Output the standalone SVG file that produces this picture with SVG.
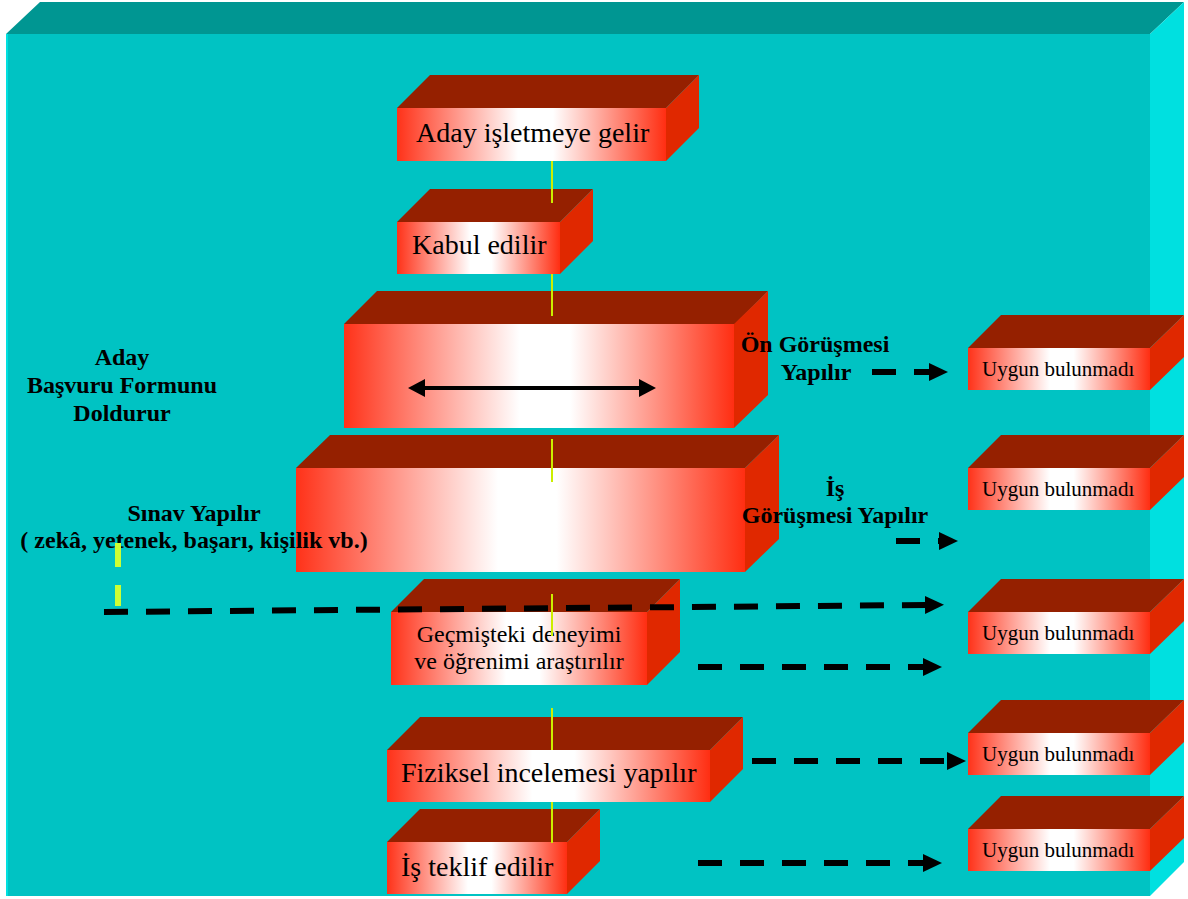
<svg xmlns="http://www.w3.org/2000/svg" width="1188" height="899" viewBox="0 0 1188 899">
<defs>
<linearGradient id="redGrad" x1="0" y1="0" x2="1" y2="0">
<stop offset="0" stop-color="#FF3219"/>
<stop offset="0.45" stop-color="#FFFFFF"/>
<stop offset="0.58" stop-color="#FFFFFF"/>
<stop offset="1" stop-color="#FF2E12"/>
</linearGradient>
<marker id="ah" markerUnits="userSpaceOnUse" markerWidth="20" markerHeight="18" refX="1" refY="9" orient="auto">
<path d="M0,0 L19,9 L0,18 z" fill="#000"/>
</marker>
<marker id="dh" markerUnits="userSpaceOnUse" markerWidth="18" markerHeight="18" refX="1" refY="9" orient="auto-start-reverse">
<path d="M0,0 L17,9 L0,18 z" fill="#000"/>
</marker>
<style>
.front{fill:url(#redGrad)}
.top{fill:#952000}
.side{fill:#E02800}
.bt{font-family:"Liberation Serif","Times New Roman",serif;font-size:28px;fill:#000}
.ut{font-family:"Liberation Serif","Times New Roman",serif;font-size:21px;fill:#000}
.gt{font-family:"Liberation Serif","Times New Roman",serif;font-size:24px;fill:#000;text-anchor:middle}
.lb{font-family:"Liberation Serif","Times New Roman",serif;font-size:24px;font-weight:bold;fill:#000;text-anchor:middle}
.yl{stroke:#CCEE00;stroke-width:2;fill:none}
.da{stroke:#000;stroke-width:6;stroke-dasharray:24 18;fill:none;marker-end:url(#ah)}
</style>
</defs>
<rect width="1188" height="899" fill="#FFFFFF"/>
<g id="background">
<polygon points="6,34 40,2 1184,2 1150,34" fill="#009692"/>
<polygon points="1150,34 1184,2 1184,862 1150,896" fill="#00E0E0"/>
<rect x="6" y="34" width="1144" height="862" fill="#00C3C3"/>
<line x1="7" y1="34" x2="7" y2="896" stroke="#00E0E0" stroke-width="2"/>
</g>
<g id="node-aday-gelir">
<polygon class="top" points="397,108 430,75 699,75 666,108"/>
<polygon class="side" points="666,108 699,75 699,128 666,161"/>
<rect class="front" x="397" y="108" width="269" height="53"/>
<text class="bt" x="416" y="142">Aday işletmeye gelir</text>
</g>
<g id="node-kabul">
<polygon class="top" points="397,222 430,189 593,189 560,222"/>
<polygon class="side" points="560,222 593,189 593,241 560,274"/>
<rect class="front" x="397" y="222" width="163" height="52"/>
<text class="bt" x="412" y="254">Kabul edilir</text>
</g>
<g id="node-on-gorusme">
<polygon class="top" points="344,324 377,291 768,291 735,324"/>
<polygon class="side" points="734,324 768,291 768,395 734,428"/>
<rect class="front" x="344" y="324" width="390" height="104"/>
</g>
<g id="node-sinav">
<polygon class="top" points="296,468 330,435 779,435 745,468"/>
<polygon class="side" points="745,468 779,435 779,539 745,572"/>
<rect class="front" x="296" y="468" width="449" height="104"/>
</g>
<g id="node-gecmis">
<polygon class="top" points="391,612 424,579 680,579 647,612"/>
<polygon class="side" points="647,612 680,579 680,652 647,685"/>
<rect class="front" x="391" y="612" width="256" height="73"/>
<text class="gt" x="519" y="642">Geçmişteki deneyimi</text>
<text class="gt" x="519" y="669">ve öğrenimi araştırılır</text>
</g>
<g id="node-fiziksel">
<polygon class="top" points="387,750 420,717 743,717 710,750"/>
<polygon class="side" points="710,750 743,717 743,769 710,802"/>
<rect class="front" x="387" y="750" width="323" height="52"/>
<text class="bt" x="401" y="782">Fiziksel incelemesi yapılır</text>
</g>
<g id="node-teklif">
<polygon class="top" points="387,842 420,809 600,809 567,842"/>
<polygon class="side" points="567,842 600,809 600,861 567,894"/>
<rect class="front" x="387" y="842" width="180" height="52"/>
<text class="bt" x="401" y="876">İş teklif edilir</text>
</g>
<g id="node-uygun-1">
<polygon class="top" points="968,348 1001,315 1184,315 1150,348"/>
<polygon class="side" points="1150,348 1184,315 1184,357 1150,390"/>
<rect class="front" x="968" y="348" width="182" height="42"/>
<text class="ut" x="982" y="376">Uygun bulunmadı</text>
</g>
<g id="node-uygun-2">
<polygon class="top" points="968,468 1001,435 1184,435 1150,468"/>
<polygon class="side" points="1150,468 1184,435 1184,477 1150,510"/>
<rect class="front" x="968" y="468" width="182" height="42"/>
<text class="ut" x="982" y="496">Uygun bulunmadı</text>
</g>
<g id="node-uygun-3">
<polygon class="top" points="968,612 1001,579 1184,579 1150,612"/>
<polygon class="side" points="1150,612 1184,579 1184,621 1150,654"/>
<rect class="front" x="968" y="612" width="182" height="42"/>
<text class="ut" x="982" y="640">Uygun bulunmadı</text>
</g>
<g id="node-uygun-4">
<polygon class="top" points="968,733 1001,700 1184,700 1150,733"/>
<polygon class="side" points="1150,733 1184,700 1184,742 1150,775"/>
<rect class="front" x="968" y="733" width="182" height="42"/>
<text class="ut" x="982" y="761">Uygun bulunmadı</text>
</g>
<g id="node-uygun-5">
<polygon class="top" points="968,829 1001,796 1184,796 1150,829"/>
<polygon class="side" points="1150,829 1184,796 1184,838 1150,871"/>
<rect class="front" x="968" y="829" width="182" height="42"/>
<text class="ut" x="982" y="857">Uygun bulunmadı</text>
</g>
<g id="label-basvuru">
<text class="lb" x="122" y="365">Aday</text>
<text class="lb" x="122" y="393">Başvuru Formunu</text>
<text class="lb" x="122" y="421">Doldurur</text>
</g>
<g id="label-on-gorusme">
<text class="lb" x="815" y="352">Ön Görüşmesi</text>
<text class="lb" x="816" y="380">Yapılır</text>
</g>
<g id="label-is-gorusme">
<text class="lb" x="835" y="496">İş</text>
<text class="lb" x="835" y="523">Görüşmesi Yapılır</text>
</g>
<g id="label-sinav">
<text class="lb" x="194" y="521">Sınav Yapılır</text>
<text class="lb" x="194" y="548">( zekâ, yetenek, başarı, kişilik vb.)</text>
</g>
<g id="connectors">
<line class="yl" x1="552" y1="161" x2="552" y2="203"/>
<line class="yl" x1="552" y1="274" x2="552" y2="316"/>
<line class="yl" x1="552" y1="439" x2="552" y2="482"/>
<line class="yl" x1="552" y1="594" x2="552" y2="636"/>
<line class="yl" x1="552" y1="708" x2="552" y2="750"/>
<line class="yl" x1="552" y1="802" x2="552" y2="843"/>
<line x1="118" y1="543" x2="118" y2="606" stroke="#CCFF33" stroke-width="6" stroke-dasharray="24 18"/>
<line x1="424" y1="388" x2="640" y2="388" stroke="#000" stroke-width="4" marker-start="url(#dh)" marker-end="url(#dh)"/>
<line class="da" x1="872" y1="372" x2="930" y2="372"/>
<line class="da" x1="896" y1="541" x2="940" y2="541"/>
<line class="da" x1="104" y1="612" x2="926" y2="605"/>
<line class="da" x1="698" y1="667" x2="924" y2="667"/>
<line class="da" x1="752" y1="761" x2="948" y2="761"/>
<line class="da" x1="698" y1="863" x2="924" y2="863"/>
</g>
</svg>
